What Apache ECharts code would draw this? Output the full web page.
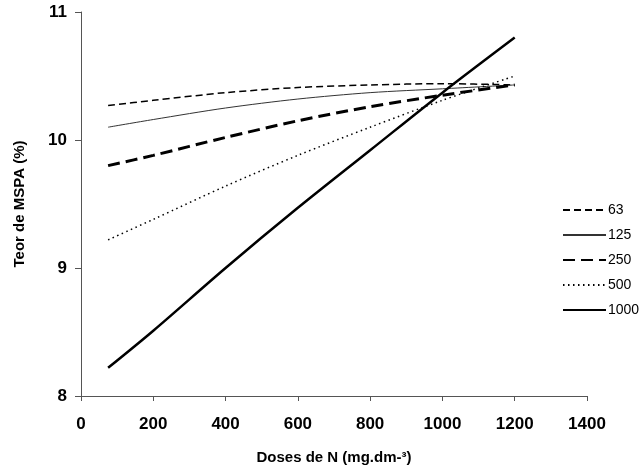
<!DOCTYPE html>
<html>
<head>
    <meta charset="utf-8">
    <title>Teor de MSPA</title>
    <script type="text/javascript" src="https://cdn.jsdelivr.net/npm/echarts@6/dist/echarts.min.js"></script>
    <style>
        html, body { margin: 0; padding: 0; background: #fff; }
    </style>
</head>
<body>
    <div id="main" style="width: 644px;height:476px;"></div>
    <script type="text/javascript">
        // doses de N (mg.dm-3) where each curve was read
        var doses = [75, 200, 400, 600, 800, 1000, 1200];
        // one curve per level in the legend
        var s63 = [10.27, 10.31, 10.37, 10.41, 10.43, 10.44, 10.43];
        var s125 = [10.10, 10.16, 10.25, 10.32, 10.37, 10.40, 10.43];
        var s250 = [9.80, 9.88, 10.02, 10.15, 10.26, 10.35, 10.43];
        var s500 = [9.22, 9.38, 9.64, 9.88, 10.10, 10.31, 10.50];
        var s1000 = [8.22, 8.51, 9.00, 9.47, 9.92, 10.37, 10.80];
        var seriesNames = ['63', '125', '250', '500', '1000'];

        function pairs(ys) {
            var out = [];
            for (var i = 0; i < doses.length; i++) {
                out.push([doses[i], ys[i]]);
            }
            return out;
        }

        var font = 'Liberation Sans, Arial, sans-serif';
        var axisColor = '#555';

        function mkSeries(name, ys, width, type, color) {
            return {
                name: name,
                type: 'line',
                data: pairs(ys),
                smooth: 0.3,
                symbol: 'none',
                lineStyle: { color: color, width: width, type: type },
                itemStyle: { color: color },
                z: 3
            };
        }

        var myChart = echarts.init(document.getElementById('main'));
        var option = {
            animation: false,
            backgroundColor: '#fff',
            grid: { left: 81, right: 57, top: 12, bottom: 80, containLabel: false },
            legend: {
                orient: 'vertical',
                left: 562,
                top: 203,
                padding: 0,
                itemWidth: 43,
                itemHeight: 14,
                itemGap: 11,
                data: seriesNames,
                itemStyle: { color: 'transparent', borderColor: 'transparent', borderWidth: 0 },
                textStyle: { fontFamily: font, fontSize: 14, color: '#000', padding: [0, 0, 0, -3] }
            },
            xAxis: {
                type: 'value',
                min: 0,
                max: 1400,
                interval: 200,
                name: 'Doses de N (mg.dm-³)',
                nameLocation: 'middle',
                nameGap: 54,
                nameTextStyle: { fontFamily: font, fontSize: 15, fontWeight: 'bold', color: '#000' },
                axisLine: { onZero: false, lineStyle: { color: axisColor, width: 1 } },
                axisTick: { show: true, length: 5, inside: false, lineStyle: { color: axisColor } },
                axisLabel: {
                    margin: 20, fontFamily: font, fontSize: 17, fontWeight: 'bold', color: '#000',
                    formatter: function (v) { return String(v); }
                },
                splitLine: { show: false }
            },
            yAxis: {
                type: 'value',
                min: 8,
                max: 11,
                interval: 1,
                name: 'Teor de MSPA (%)',
                nameLocation: 'middle',
                nameGap: 54,
                nameTextStyle: { fontFamily: font, fontSize: 15, fontWeight: 'bold', color: '#000' },
                axisLine: { show: true, onZero: false, lineStyle: { color: axisColor, width: 1 } },
                axisTick: { show: true, length: 6, inside: false, lineStyle: { color: axisColor } },
                axisLabel: { margin: 14, fontFamily: font, fontSize: 17, fontWeight: 'bold', color: '#000' },
                splitLine: { show: false }
            },
            series: [
                mkSeries('63', s63, 1.5, [7, 4], '#000'),
                mkSeries('125', s125, 1, 'solid', '#333'),
                mkSeries('250', s250, 3, [12, 6], '#000'),
                mkSeries('500', s500, 1.5, [1.5, 3.5], '#000'),
                mkSeries('1000', s1000, 2.5, 'solid', '#000')
            ]
        };
        myChart.setOption(option);
    </script>
</body>
</html>
